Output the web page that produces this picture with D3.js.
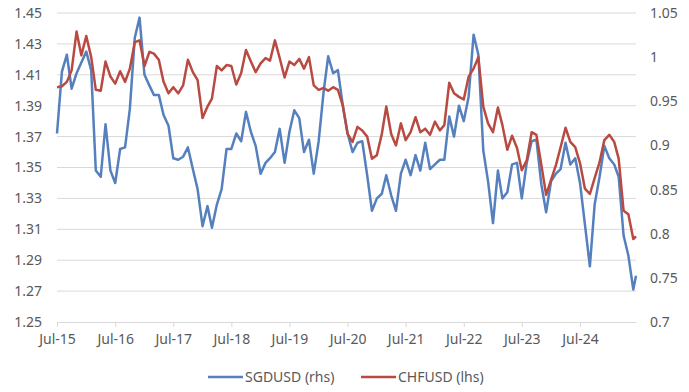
<!DOCTYPE html>
<html>
<head>
<meta charset="utf-8">
<script src="https://cdn.jsdelivr.net/npm/d3@7"></script>
<style>
  body { margin: 0; background: #fff; }
  svg text { font-family: "Noto Sans", "Open Sans", sans-serif; fill: #595959; }
</style>
</head>
<body>
<div id="chart"></div>
<script>
// monthly from Jul-15, last reading is mid-June 2025
const startMonth = "2015-07-01";
const lastDate = "2025-06-18";

// blue line, read on the left axis
const sgdusd = [
  1.372, 1.412, 1.423, 1.401, 1.411, 1.418, 1.425, 1.413, 1.348, 1.344, 1.378, 1.348,
  1.340, 1.362, 1.363, 1.388, 1.434, 1.447, 1.410, 1.403, 1.397, 1.397, 1.384, 1.377,
  1.356, 1.355, 1.357, 1.363, 1.349, 1.336, 1.312, 1.325, 1.311, 1.326, 1.336, 1.362,
  1.362, 1.372, 1.367, 1.386, 1.373, 1.364, 1.346, 1.353, 1.356, 1.360, 1.375, 1.353,
  1.373, 1.387, 1.382, 1.360, 1.368, 1.346, 1.367, 1.399, 1.422, 1.411, 1.413, 1.390,
  1.372, 1.360, 1.366, 1.367, 1.345, 1.322, 1.330, 1.333, 1.345, 1.332, 1.322, 1.346,
  1.355, 1.345, 1.358, 1.348, 1.366, 1.349, 1.352, 1.355, 1.355, 1.383, 1.370, 1.390,
  1.380, 1.396, 1.436, 1.423, 1.361, 1.341, 1.314, 1.348, 1.330, 1.334, 1.352, 1.353,
  1.330, 1.353, 1.367, 1.368, 1.339, 1.321, 1.341, 1.346, 1.349, 1.366, 1.352, 1.356,
  1.340, 1.313, 1.286, 1.326, 1.344, 1.364, 1.356, 1.352, 1.344, 1.306, 1.293, 1.271,
  1.280
];

// red line, read on the right axis
const chfusd = [
  0.966, 0.967, 0.972, 0.985, 1.029, 1.002, 1.024, 1.000, 0.963, 0.962, 0.995, 0.978,
  0.970, 0.984, 0.972, 0.987, 1.017, 1.019, 0.990, 1.006, 1.004, 0.997, 0.972, 0.959,
  0.966, 0.959, 0.968, 0.997, 0.983, 0.974, 0.931, 0.944, 0.953, 0.990, 0.985, 0.991,
  0.990, 0.969, 0.982, 1.008, 0.995, 0.983, 0.993, 0.999, 0.996, 1.019, 0.999, 0.977,
  0.995, 0.991, 0.998, 0.987, 1.000, 0.968, 0.963, 0.965, 0.962, 0.966, 0.963, 0.945,
  0.913, 0.904, 0.921, 0.917, 0.910, 0.885, 0.889, 0.913, 0.944, 0.913, 0.900, 0.925,
  0.906, 0.915, 0.932, 0.915, 0.919, 0.912, 0.927, 0.917, 0.923, 0.971, 0.959, 0.955,
  0.952, 0.978, 0.987, 1.000, 0.944, 0.925, 0.915, 0.943, 0.923, 0.895, 0.911, 0.897,
  0.872, 0.883, 0.915, 0.912, 0.878, 0.844, 0.861, 0.878, 0.898, 0.920, 0.904, 0.898,
  0.880, 0.851, 0.845, 0.863, 0.881, 0.906, 0.912, 0.904, 0.885, 0.826, 0.822, 0.794,
  0.797
];

const xTickLabels = ["Jul-15", "Jul-16", "Jul-17", "Jul-18", "Jul-19", "Jul-20", "Jul-21", "Jul-22", "Jul-23", "Jul-24"];
const leftTicks = [1.25, 1.27, 1.29, 1.31, 1.33, 1.35, 1.37, 1.39, 1.41, 1.43, 1.45];
const rightTicks = [0.7, 0.75, 0.8, 0.85, 0.9, 0.95, 1, 1.05];

const series = [
  {name: "SGDUSD (rhs)", values: sgdusd, axis: "left", color: "#5580bd"},
  {name: "CHFUSD (lhs)", values: chfusd, axis: "right", color: "#b84a42"}
];

const W = 689, H = 392;
const margin = {top: 13, right: 53, bottom: 70, left: 57};
const width = W - margin.left - margin.right;
const height = H - margin.top - margin.bottom;

const parseDay = d3.timeParse("%Y-%m-%d");
const parseTick = d3.timeParse("%b-%y");
const dates = d3.timeMonth.range(parseDay(startMonth), parseDay(lastDate)).concat([parseDay(lastDate)]);

const svg = d3.select("#chart").append("svg")
  .attr("width", W)
  .attr("height", H);

const chart = svg.append("g")
  .attr("transform", `translate(${margin.left},${margin.top})`);

const x = d3.scaleTime()
  .domain([dates[0], dates[dates.length - 1]])
  .range([0, width]);

const yLeft = d3.scaleLinear().domain([1.25, 1.45]).range([height, 0]);
const yRight = d3.scaleLinear().domain([0.7, 1.05]).range([height, 0]);

// gridlines
chart.append("g")
  .selectAll("line")
  .data(leftTicks.slice(1))
  .join("line")
  .attr("x1", 0).attr("x2", width)
  .attr("y1", d => yLeft(d)).attr("y2", d => yLeft(d))
  .attr("stroke", "#d9d9d9")
  .attr("stroke-width", 1);

// left axis
const gL = chart.append("g")
  .call(d3.axisLeft(yLeft).tickValues(leftTicks).tickFormat(d3.format(".2f")).tickSize(0).tickPadding(15));
gL.select(".domain").remove();
gL.selectAll("text").style("font-size", "14px");

// right axis
const gR = chart.append("g")
  .attr("transform", `translate(${width},0)`)
  .call(d3.axisRight(yRight).tickValues(rightTicks).tickFormat(d => d3.format("")(+d.toFixed(2))).tickSize(0).tickPadding(14));
gR.select(".domain").remove();
gR.selectAll("text").style("font-size", "14px");

// bottom axis
const gB = chart.append("g")
  .attr("transform", `translate(0,${height})`)
  .call(d3.axisBottom(x)
    .tickValues(xTickLabels.map(parseTick))
    .tickFormat((d, i) => xTickLabels[i])
    .tickSize(5)
    .tickSizeOuter(0)
    .tickPadding(7));
gB.select(".domain").attr("stroke", "#d9d9d9");
gB.selectAll(".tick line").attr("stroke", "#d9d9d9");
gB.selectAll("text").style("font-size", "14px");

// lines
series.forEach(s => {
  const y = s.axis === "left" ? yLeft : yRight;
  const line = d3.line()
    .x((d, i) => x(dates[i]))
    .y(d => y(d));
  chart.append("path")
    .datum(s.values)
    .attr("d", line)
    .attr("fill", "none")
    .attr("stroke", s.color)
    .attr("stroke-width", 2.5)
    .attr("stroke-linejoin", "round");
});

// legend
const legend = svg.append("g").attr("transform", "translate(208,377)");
const legendX = [0, 153];
series.forEach((s, i) => {
  const g = legend.append("g").attr("transform", `translate(${legendX[i]},0)`);
  g.append("line")
    .attr("x1", 0).attr("x2", 35)
    .attr("y1", 0).attr("y2", 0)
    .attr("stroke", s.color)
    .attr("stroke-width", 2.5);
  g.append("text")
    .attr("x", 37)
    .attr("y", 0)
    .attr("dy", "0.35em")
    .style("font-size", "14px")
    .text(s.name);
});
</script>
</body>
</html>
